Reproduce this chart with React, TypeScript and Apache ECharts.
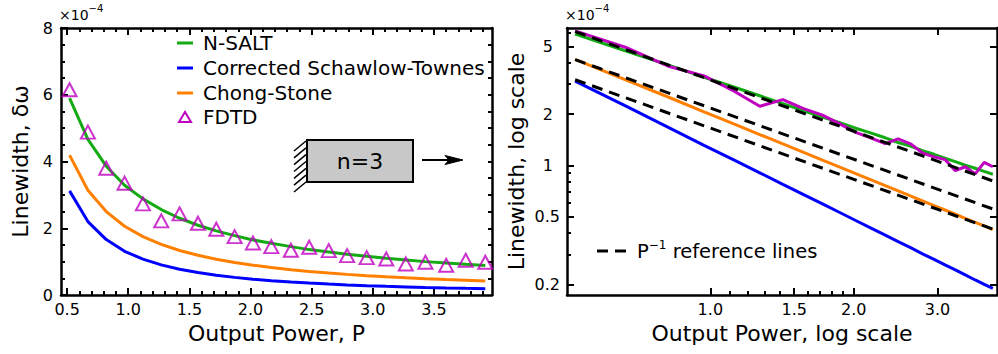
import React, { useEffect, useRef } from "react";
import * as echarts from "echarts";

// ---------------- data (linewidth in units of 1e-4) ----------------
const power = [0.52, 0.67, 0.82, 0.97, 1.12, 1.27, 1.42, 1.57, 1.72, 1.87, 2.02, 2.17, 2.33, 2.48, 2.64, 2.79, 2.95, 3.11, 3.27, 3.43, 3.6, 3.76, 3.92];
const nSalt = [5.9, 4.66, 3.86, 3.29, 2.88, 2.56, 2.3, 2.09, 1.92, 1.78, 1.65, 1.55, 1.45, 1.36, 1.29, 1.22, 1.16, 1.1, 1.05, 1.0, 0.96, 0.92, 0.886];
const correctedST = [3.12, 2.2, 1.66, 1.31, 1.076, 0.903, 0.773, 0.673, 0.593, 0.528, 0.474, 0.429, 0.389, 0.356, 0.327, 0.302, 0.28, 0.26, 0.243, 0.227, 0.212, 0.2, 0.189];
const chongStone = [4.19, 3.14, 2.5, 2.06, 1.75, 1.515, 1.334, 1.19, 1.072, 0.975, 0.893, 0.823, 0.759, 0.707, 0.658, 0.618, 0.58, 0.546, 0.516, 0.488, 0.462, 0.44, 0.419];
const fdtd = [6.15, 4.88, 3.8, 3.35, 2.73, 2.22, 2.43, 2.15, 1.97, 1.75, 1.56, 1.45, 1.34, 1.43, 1.33, 1.18, 1.12, 1.08, 0.93, 0.98, 0.89, 1.04, 0.98];

// P^-1 reference lines (end points)
const refPower = [0.52, 3.92];
const refUpper = [6.1, 0.809];
const refMiddle = [4.17, 0.554];
const refLower = [3.18, 0.422];

// ---------------- ticks ----------------
const leftXMajor = [0.5, 1.0, 1.5, 2.0, 2.5, 3.0, 3.5];
const leftXMinor = [0.6, 0.7, 0.8, 0.9, 1.1, 1.2, 1.3, 1.4, 1.6, 1.7, 1.8, 1.9, 2.1, 2.2, 2.3, 2.4, 2.6, 2.7, 2.8, 2.9, 3.1, 3.2, 3.3, 3.4, 3.6, 3.7, 3.8, 3.9];
const leftYMajor = [0, 2, 4, 6, 8];
const leftYMinor = [0.5, 1, 1.5, 2.5, 3, 3.5, 4.5, 5, 5.5, 6.5, 7, 7.5];
const leftYRight = [0.5, 1, 1.5, 2, 2.5, 3, 3.5, 4, 4.5, 5, 5.5, 6, 6.5, 7, 7.5];
const rightXMajor = [1.0, 1.5, 2.0, 3.0];
const rightXMinor = [1.1, 1.2, 1.3, 1.4, 1.6, 1.7, 1.8, 1.9];
const rightYMajor = [0.2, 0.5, 1, 2, 5];
const rightYMinor = [0.3, 0.4, 0.6, 0.7, 0.8, 0.9, 3, 4, 6];

const FONT = "'DejaVu Sans', sans-serif";
const GREEN = "#14aa14";
const BLUE = "#0000ff";
const ORANGE = "#ff8000";
const MAGENTA = "#bf00bf";

const L_XMIN = 0.45, L_XMAX = 3.975, L_YMIN = 0, L_YMAX = 8;
const R_XMIN = 0.5, R_XMAX = 4.0, R_YMIN = 0.173, R_YMAX = 6.4;
const lg = (v: number) => Math.log10(v);

const axisLineStyle = { color: "#000", width: 2.5 };
const tickStyle = { color: "#000", width: 2 };
const labelStyle = { color: "#000", fontSize: 16, fontFamily: FONT };
const nameStyle = { color: "#000", fontSize: 22, fontFamily: FONT };

function tickAxis(o: any) {
  return {
    type: "value",
    splitLine: { show: false },
    axisLine: { show: !!o.line, onZero: false, lineStyle: axisLineStyle },
    axisTick: { show: true, inside: true, length: o.len, lineStyle: tickStyle, customValues: o.ticks },
    axisLabel: o.labels
      ? { show: true, customValues: o.ticks, formatter: o.fmt, margin: o.margin, ...labelStyle, rich: o.rich }
      : { show: false },
    ...o.extra,
  };
}

function fmtLog(v: number) {
  const r = Math.round(Math.pow(10, v) * 10) / 10;
  if (r >= 1 && Math.abs(r - Math.round(r)) < 1e-9) return "{i|" + Math.round(r) + "}";
  return String(r);
}

export default function App() {
  const ref = useRef<HTMLDivElement>(null);
  useEffect(() => {
    if (!ref.current) return;
    const chart = echarts.init(ref.current, undefined, { renderer: "svg" });
    const pair = (xs: number[], ys: number[]) => xs.map((x, i) => [x, ys[i]]);

    const xAxis: any[] = [
      // left grid
      tickAxis({ line: true, len: 7, ticks: leftXMajor, labels: true, fmt: (v: number) => v.toFixed(1), margin: 6,
        extra: { gridIndex: 0, position: "bottom", min: L_XMIN, max: L_XMAX, name: "Output Power, P", nameLocation: "middle", nameGap: 27, nameTextStyle: nameStyle } }),
      tickAxis({ len: 4, ticks: leftXMinor, extra: { gridIndex: 0, position: "bottom", min: L_XMIN, max: L_XMAX } }),
      tickAxis({ line: true, len: 7, ticks: leftXMajor, extra: { gridIndex: 0, position: "top", min: L_XMIN, max: L_XMAX } }),
      tickAxis({ len: 4, ticks: leftXMinor, extra: { gridIndex: 0, position: "top", min: L_XMIN, max: L_XMAX } }),
      // right grid: log axis carrying the data
      { type: "log", gridIndex: 1, min: R_XMIN, max: R_XMAX, position: "bottom", show: false, splitLine: { show: false } },
      tickAxis({ line: true, len: 7, ticks: rightXMajor.map(lg), labels: true, fmt: (v: number) => Math.pow(10, v).toFixed(1), margin: 6,
        extra: { gridIndex: 1, position: "bottom", min: lg(R_XMIN), max: lg(R_XMAX), name: "Output Power, log scale", nameLocation: "middle", nameGap: 27, nameTextStyle: nameStyle } }),
      tickAxis({ len: 4, ticks: rightXMinor.map(lg), extra: { gridIndex: 1, position: "bottom", min: lg(R_XMIN), max: lg(R_XMAX) } }),
      tickAxis({ line: true, len: 7, ticks: rightXMajor.map(lg), extra: { gridIndex: 1, position: "top", min: lg(R_XMIN), max: lg(R_XMAX) } }),
      tickAxis({ len: 4, ticks: rightXMinor.map(lg), extra: { gridIndex: 1, position: "top", min: lg(R_XMIN), max: lg(R_XMAX) } }),
    ];

    const yAxis: any[] = [
      tickAxis({ line: true, len: 7, ticks: leftYMajor, labels: true, fmt: (v: number) => String(v), margin: 8,
        extra: { gridIndex: 0, position: "left", min: L_YMIN, max: L_YMAX, name: "Linewidth, δω", nameLocation: "middle", nameGap: 30, nameRotate: 90, nameTextStyle: nameStyle } }),
      tickAxis({ len: 4, ticks: leftYMinor, extra: { gridIndex: 0, position: "left", min: L_YMIN, max: L_YMAX } }),
      tickAxis({ line: true, len: 4, ticks: leftYRight, extra: { gridIndex: 0, position: "right", min: L_YMIN, max: L_YMAX } }),
      { type: "log", gridIndex: 1, min: R_YMIN, max: R_YMAX, position: "left", show: false, splitLine: { show: false } },
      tickAxis({ line: true, len: 7, ticks: rightYMajor.map(lg), labels: true, fmt: fmtLog, margin: 7, rich: { i: { ...labelStyle, padding: [0, 7, 0, 0] } },
        extra: { gridIndex: 1, position: "left", min: lg(R_YMIN), max: lg(R_YMAX), name: "Linewidth, log scale", nameLocation: "middle", nameGap: 40, nameRotate: 90, nameTextStyle: nameStyle } }),
      tickAxis({ len: 4, ticks: rightYMinor.map(lg), extra: { gridIndex: 1, position: "left", min: lg(R_YMIN), max: lg(R_YMAX) } }),
      tickAxis({ line: true, len: 7, ticks: rightYMajor.map(lg), extra: { gridIndex: 1, position: "right", min: lg(R_YMIN), max: lg(R_YMAX) } }),
    ];

    const line = (name: string, color: string, xs: number[], ys: number[], xi: number, yi: number, extra: any = {}) => ({
      type: "line", name, xAxisIndex: xi, yAxisIndex: yi, data: pair(xs, ys), symbol: "none",
      lineStyle: { color, width: 3 }, itemStyle: { color }, silent: true, ...extra,
    });
    const dashed = { lineStyle: { color: "#000", width: 3, type: [11, 7] }, itemStyle: { color: "#000" }, z: 5 };

    const series: any[] = [
      line("N-SALT", GREEN, power, nSalt, 0, 0),
      line("Corrected Schawlow-Townes", BLUE, power, correctedST, 0, 0),
      line("Chong-Stone", ORANGE, power, chongStone, 0, 0),
      {
        type: "scatter", name: "FDTD", xAxisIndex: 0, yAxisIndex: 0, data: pair(power, fdtd),
        symbol: "triangle", symbolSize: [14, 13], silent: true, z: 4,
        itemStyle: { color: "rgba(0,0,0,0)", borderColor: MAGENTA, borderWidth: 2 },
      },
      line("N-SALT", GREEN, power, nSalt, 4, 3),
      line("Corrected Schawlow-Townes", BLUE, power, correctedST, 4, 3),
      line("Chong-Stone", ORANGE, power, chongStone, 4, 3),
      line("FDTD", MAGENTA, power, fdtd, 4, 3, { z: 3 }),
      line("P⁻¹ reference lines", "#000", refPower, refUpper, 4, 3, dashed),
      line("P⁻¹ reference lines", "#000", refPower, refMiddle, 4, 3, dashed),
      line("P⁻¹ reference lines", "#000", refPower, refLower, 4, 3, dashed),
    ];

    const txt = (x: number, y: number, text: string, size = 20) => ({
      type: "text", x, y, silent: true,
      style: { text, fontSize: size, fontFamily: FONT, fill: "#000", align: "left", verticalAlign: "middle" },
    });
    const seg = (x1: number, y1: number, x2: number, y2: number, stroke: string, lineWidth: number, extra: any = {}) => ({
      type: "line", silent: true, shape: { x1, y1, x2, y2 }, style: { stroke, lineWidth, ...extra },
    });
    const expo = (x: number) => ({
      type: "text", x, y: 3, silent: true,
      style: {
        text: "{b|×10}{s|−4}", align: "left", verticalAlign: "top",
        rich: {
          b: { fontSize: 14, lineHeight: 24, fontFamily: FONT, fill: "#000" },
          s: { fontSize: 10, lineHeight: 10, verticalAlign: "top", fontFamily: FONT, fill: "#000" },
        },
      },
    });
    const hatchTops = [141, 147.8, 154.7, 161.5, 168.3, 175.2, 182];

    const graphic: any[] = [
      expo(59),
      expo(565),
      // left legend
      seg(177, 43, 193, 43, GREEN, 3), txt(203, 43, "N-SALT"),
      seg(177, 68, 193, 68, BLUE, 3), txt(203, 68, "Corrected Schawlow-Townes"),
      seg(177, 93, 193, 93, ORANGE, 3), txt(203, 93, "Chong-Stone"),
      { type: "polygon", silent: true, shape: { points: [[179, 122], [191, 122], [185, 112]] }, style: { fill: "none", stroke: MAGENTA, lineWidth: 2 } },
      txt(203, 117, "FDTD"),
      // inset
      ...hatchTops.map((t) => seg(306, t, 294, t + 10, "#000", 1.5)),
      { type: "rect", silent: true, shape: { x: 307, y: 140, width: 106, height: 42 }, style: { fill: "#c8c8c8", stroke: "#000", lineWidth: 2 } },
      { type: "text", x: 360, y: 161, silent: true, style: { text: "n=3", fontSize: 22, fontFamily: FONT, fill: "#000", align: "center", verticalAlign: "middle" } },
      seg(422, 160, 452, 160, "#000", 2),
      { type: "polygon", silent: true, shape: { points: [[445, 155.5], [463, 160], [445, 164.5], [449, 160]] }, style: { fill: "#000", stroke: "#000", lineWidth: 1 } },
      // right legend
      seg(597, 251, 628, 251, "#000", 3, { lineDash: [11, 7] }),
      {
        type: "text", x: 637, y: 239, silent: true,
        style: {
          text: "{a|P}{s|−1}{a| reference lines}", align: "left", verticalAlign: "top",
          rich: {
            a: { fontSize: 19.5, lineHeight: 24, fontFamily: FONT, fill: "#000" },
            s: { fontSize: 12, lineHeight: 15, verticalAlign: "top", fontFamily: FONT, fill: "#000" },
          },
        },
      },
    ];

    chart.setOption({
      animation: false,
      backgroundColor: "#fff",
      grid: [
        { left: 61, top: 28, width: 431, height: 267 },
        { left: 567, top: 28, width: 430, height: 267 },
      ],
      xAxis,
      yAxis,
      series,
      graphic,
    });
    return () => chart.dispose();
  }, []);
  return <div ref={ref} style={{ position: "absolute", left: 0, top: 0, width: 998, height: 354 }} />;
}
